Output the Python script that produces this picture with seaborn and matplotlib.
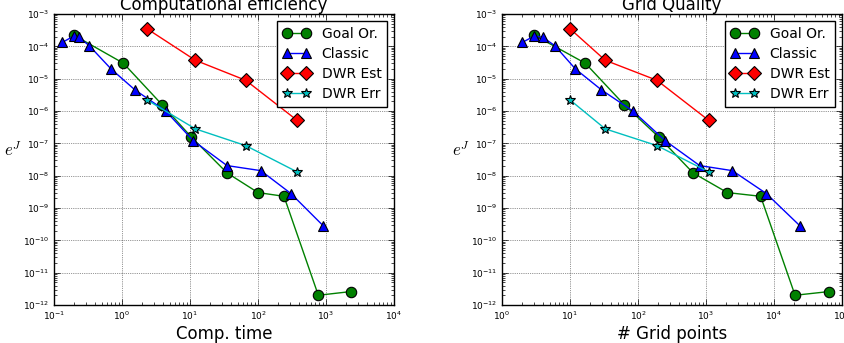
import numpy as np
import pandas as pd
import matplotlib
matplotlib.use("Agg")
import matplotlib.pyplot as plt
from matplotlib.ticker import LogLocator, NullFormatter
import seaborn as sns

# ---- data ----
labels = ["Goal Or.", "Classic", "DWR Est", "DWR Err"]

goal_err = [2.2e-4, 3.0e-5, 1.55e-6, 1.55e-7, 1.22e-8, 3.0e-9, 2.3e-9, 2.0e-12, 2.6e-12]
goal_time = [0.197, 1.05, 3.9, 10.5, 35, 100, 241, 771, 2307]
goal_grid = [3, 16.8, 63, 203, 644, 2056, 6360, 20400, 64000]

classic_err = [1.33e-4, 2.1e-4, 1.9e-4, 1.04e-4, 2.0e-5, 4.5e-6, 1.0e-6, 1.2e-7,
               2.05e-8, 1.43e-8, 2.8e-9, 2.8e-10]
classic_time = [0.133, 0.197, 0.233, 0.331, 0.69, 1.55, 4.39, 11.2, 35, 110, 305, 913]
classic_grid = [2, 3, 4, 6, 12, 29, 84, 252, 807, 2440, 7710, 24100]

dwr_est_err = [3.5e-4, 3.7e-5, 8.9e-6, 5.1e-7]
dwr_err_err = [2.2e-6, 2.8e-7, 8.5e-8, 1.3e-8]
dwr_time = [2.33, 12.0, 66, 378]
dwr_grid = [10, 33, 190, 1100]

titles = ["Computational efficiency", "Grid Quality"]
xlabels = ["Comp. time", "# Grid points"]
xlims = [(1e-1, 1e4), (1e0, 1e5)]

plt.rcParams["mathtext.fontset"] = "cm"
plt.rcParams["font.family"] = ["DejaVu Sans"]

fig = plt.figure(figsize=(8.45, 3.43), dpi=100)
ax1 = fig.add_axes([54 / 845, 38 / 343, 340 / 845, 291 / 343])
ax2 = fig.add_axes([502 / 845, 38 / 343, 340 / 845, 291 / 343])

styles = [
    dict(color="g", marker="o", markersize=7.5),
    dict(color="b", marker="^", markersize=7.5),
    dict(color="r", marker="D", markersize=7),
    dict(color="c", marker="*", markersize=7),
]

for ax, xs, title, xlabel, xlim in zip(
    [ax1, ax2],
    [[goal_time, classic_time, dwr_time, dwr_time], [goal_grid, classic_grid, dwr_grid, dwr_grid]],
    titles, xlabels, xlims,
):
    ys = [goal_err, classic_err, dwr_est_err, dwr_err_err]
    for lab, x, y, st in zip(labels, xs, ys, styles):
        df = pd.DataFrame({"x": x, "y": y})
        sns.lineplot(data=df, x="x", y="y", ax=ax, sort=False, estimator=None,
                     label=lab, linewidth=1.0, markeredgecolor="k",
                     markeredgewidth=0.8, **st)
    ax.set_xscale("log")
    ax.set_yscale("log")
    ax.set_xlim(*xlim)
    ax.set_ylim(1e-12, 1e-3)
    for axis in (ax.xaxis, ax.yaxis):
        axis.set_major_locator(LogLocator(base=10, numticks=20))
        axis.set_minor_locator(LogLocator(base=10, subs=np.arange(2, 10), numticks=200))
        axis.set_minor_formatter(NullFormatter())
    ax.tick_params(which="both", direction="in", top=True, right=True, labelsize=6.5)
    ax.tick_params(which="major", length=4, width=0.5)
    ax.tick_params(which="minor", length=2, width=0.5)
    ax.grid(True, which="major", color="k", linestyle=":", linewidth=0.5, alpha=0.8)
    for sp in ax.spines.values():
        sp.set_linewidth(1.0)
        sp.set_color("k")
    ax.set_title(title, fontsize=12, pad=3)
    ax.set_xlabel(xlabel, fontsize=12, labelpad=2)
    ax.set_ylabel("$e^J$", fontsize=12, rotation=0, ha="center", va="center")
    ax.yaxis.set_label_coords(-0.12, 0.53)
    leg = ax.legend(loc="upper right", numpoints=2, fancybox=False, framealpha=1,
                    edgecolor="k", fontsize=10, handlelength=2.0, handletextpad=0.8,
                    borderaxespad=0.5, labelspacing=0.45)
    leg.get_frame().set_linewidth(1.0)

fig.savefig("out.png", dpi=100)
